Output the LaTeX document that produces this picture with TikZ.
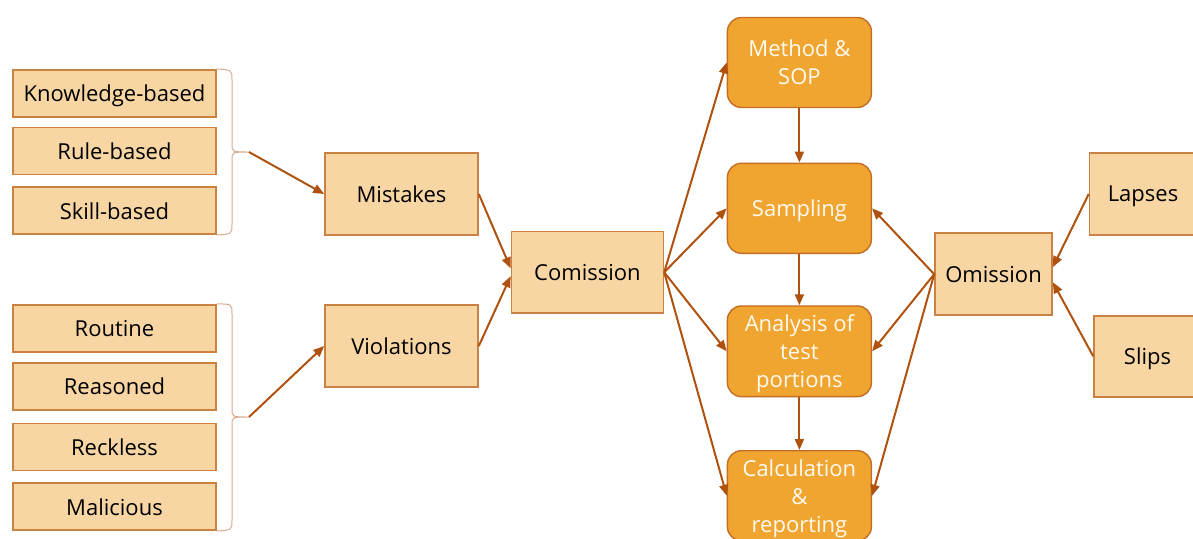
\documentclass[tikz,border=0pt]{standalone}
\usepackage{fontspec}
\setmainfont{Open Sans}
\usetikzlibrary{arrows.meta,calc}
\definecolor{peach}{HTML}{F8D6A3}
\definecolor{peachline}{HTML}{C98243}
\definecolor{amber}{HTML}{EFA530}
\definecolor{amberline}{HTML}{C46E24}
\definecolor{linkc}{HTML}{B0520F}
\definecolor{bracec}{HTML}{D9A98A}
\definecolor{cream}{HTML}{FFFAF0}
\begin{document}
\begin{tikzpicture}[x=1pt,y=-1pt,
  lightbox/.style={draw=peachline, fill=peach, line width=1.6pt, inner sep=0pt,
    font=\fontsize{22}{28}\selectfont, text=black, align=center, text depth=0pt},
  sidebox/.style={lightbox, minimum width=203pt, minimum height=47pt},
  midbox/.style={lightbox, minimum height=82pt},
  stagebox/.style={draw=amberline, fill=amber, line width=1.4pt, rounded corners=14pt,
    inner sep=0pt, minimum width=144pt, minimum height=90pt, text=cream, align=center,
    font=\fontsize{22}{28}\selectfont, text depth=0pt},
  link/.style={draw=linkc, line width=2pt, -{Triangle[length=11pt,width=9pt]}},
  bracepath/.style={draw=bracec, line width=1pt}]
\useasboundingbox (0,0) rectangle (1193,538);

% error types, left column
\node[sidebox] (kb) at (114.5,93.2) {Knowledge-based};
\node[sidebox] (rb) at (114.5,151) {Rule-based};
\node[sidebox] (sb) at (114.5,210.7) {Skill-based};
\node[sidebox] (rt) at (114.5,328.2) {Routine};
\node[sidebox] (rs) at (114.5,386.3) {Reasoned};
\node[sidebox] (rk) at (114.5,446.8) {Reckless};
\node[sidebox] (ml) at (114.5,506.7) {Malicious};

% grouping braces
\coordinate (bu) at (249,152);
\coordinate (bl) at (249,417);
\draw[bracepath] (kb.north east) .. controls (232,70) .. (232,80) -- (232,144)
  .. controls (232,152) .. (bu) .. controls (232,152) .. (232,160) -- (232,224)
  .. controls (232,234) .. (sb.south east);
\draw[bracepath] (rt.north east) .. controls (232,304) .. (232,314) -- (232,409)
  .. controls (232,417) .. (bl) .. controls (232,417) .. (232,425) -- (232,520)
  .. controls (232,530) .. (ml.south east);

% middle categories
\node[midbox, minimum width=153pt] (mistakes) at (401.5,194) {Mistakes};
\node[midbox, minimum width=153pt] (violations) at (401.5,346) {Violations};
\node[midbox, minimum width=152pt, minimum height=81.5pt] (comission) at (587.4,272.3) {Comission};
\node[midbox, minimum width=117pt] (omission) at (993.5,274.2) {Omission};
\node[midbox, minimum width=107pt] (lapses) at (1143,194) {Lapses};
\node[midbox, minimum width=107pt, minimum height=81pt] (slips) at (1147.5,356.2) {Slips};

% process stages
\node[stagebox] (method) at (799.4,62.5) {Method \&\\SOP};
\node[stagebox] (sampling) at (799.4,208.3) {Sampling};
\node[stagebox, minimum height=90.7pt] (analysis) at (799.4,351.3) {Analysis of\\test\\portions};
\node[stagebox] (calc) at (799.4,495.7) {Calculation\\\&\\reporting};

% connectors
\draw[link] (bu) -- (mistakes.west);
\draw[link] (bl) -- (violations.west);
\draw[link] (mistakes.east) -- ([yshift=4pt]comission.west);
\draw[link] (violations.east) -- ([yshift=-4pt]comission.west);
\draw[link] (comission.east) -- (method.west);
\draw[link] (comission.east) -- (sampling.west);
\draw[link] (comission.east) -- (analysis.west);
\draw[link] (comission.east) -- (calc.west);
\draw[link] (method.south) -- (sampling.north);
\draw[link] (sampling.south) -- (analysis.north);
\draw[link] (analysis.south) -- (calc.north);
\draw[link] (omission.west) -- (sampling.east);
\draw[link] (omission.west) -- (analysis.east);
\draw[link] (omission.west) -- (calc.east);
\draw[link] (lapses.west) -- ([yshift=7pt]omission.east);
\draw[link] (slips.west) -- ([yshift=-8pt]omission.east);
\end{tikzpicture}
\end{document}
